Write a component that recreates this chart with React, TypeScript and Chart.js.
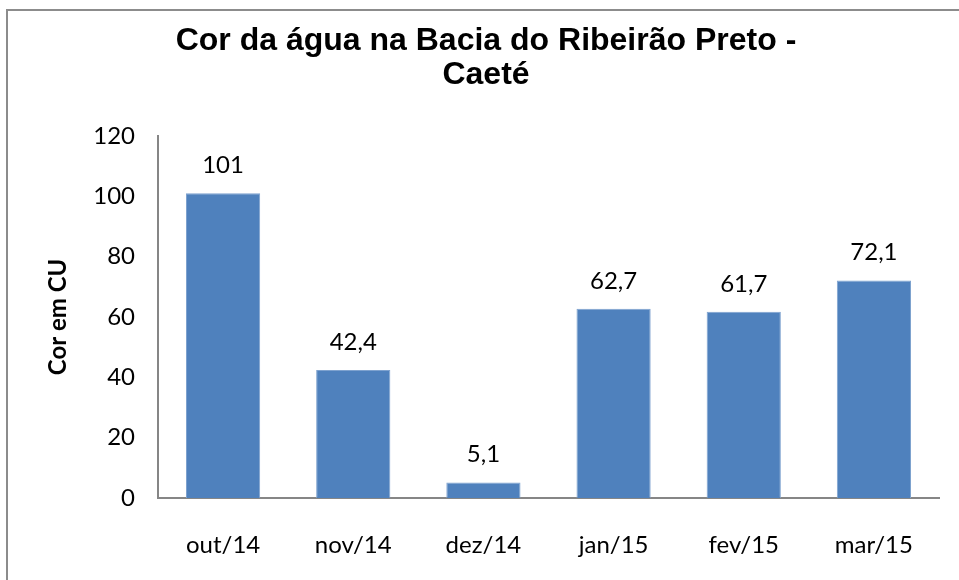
import React, { useEffect, useRef } from "react";
import { Chart, registerables } from "chart.js";

Chart.register(...registerables);

const categories = ["out/14", "nov/14", "dez/14", "jan/15", "fev/15", "mar/15"];
const values = [101, 42.4, 5.1, 62.7, 61.7, 72.1];
const yTicks = [0, 20, 40, 60, 80, 100, 120];
const titleLines = ["Cor da água na Bacia do Ribeirão Preto -", "Caeté"];
const yTitle = "Cor em CU";

const LABEL_FONT = "Lato, 'Open Sans', sans-serif";

const dataLabels = {
  id: "dataLabels",
  afterDatasetsDraw(chart: any) {
    const ctx = chart.ctx;
    const meta = chart.getDatasetMeta(0);
    ctx.save();
    ctx.font = `24px ${LABEL_FONT}`;
    ctx.fillStyle = "#000";
    ctx.textAlign = "center";
    ctx.textBaseline = "middle";
    meta.data.forEach((bar: any, i: number) => {
      const txt = String(values[i]).replace(".", ",");
      ctx.fillText(txt, bar.x, bar.y - 28);
    });
    ctx.restore();
  },
};

export default function App() {
  const ref = useRef<HTMLCanvasElement | null>(null);
  useEffect(() => {
    if (!ref.current) return;
    const chart = new Chart(ref.current, {
      type: "bar",
      data: {
        labels: categories,
        datasets: [
          {
            data: values,
            backgroundColor: "#4F81BD",
            borderColor: "#7EA2CF",
            borderWidth: 1,
            barPercentage: 0.57,
            categoryPercentage: 1,
          },
        ],
      },
      options: {
        animation: false,
        responsive: false,
        maintainAspectRatio: false,
        layout: { padding: { left: 33, right: 41, top: 0, bottom: 0 } },
        plugins: {
          legend: { display: false },
          tooltip: { enabled: false },
          title: {
            display: true,
            text: titleLines,
            color: "#000",
            font: { family: "'Liberation Sans', Arial, sans-serif", size: 32, weight: "bold", lineHeight: 1.06 },
            padding: { top: 24, bottom: 44 },
          },
        },
        scales: {
          x: {
            grid: { display: false, drawTicks: false },
            border: { display: true, color: "#868686", width: 2 },
            ticks: { color: "#000", font: { family: LABEL_FONT, size: 24 }, padding: 33 },
            afterFit: (s: any) => {
              s.height = 82;
            },
          },
          y: {
            min: 0,
            max: 120,
            afterBuildTicks: (s: any) => {
              s.ticks = yTicks.map((v) => ({ value: v }));
            },
            grid: { display: false, drawTicks: false },
            border: { display: true, color: "#868686", width: 2 },
            ticks: { color: "#000", font: { family: LABEL_FONT, size: 24 }, padding: 23 },
            title: {
              display: true,
              text: yTitle,
              color: "#000",
              font: { family: LABEL_FONT, size: 24, weight: "bold" },
              padding: { top: 11, bottom: 0 },
            },
            afterFit: (s: any) => {
              s.width = 125;
            },
          },
        },
      },
      plugins: [dataLabels],
    });
    return () => chart.destroy();
  }, []);

  return (
    <div style={{ position: "absolute", left: 0, top: 0, width: 959, height: 580, overflow: "hidden", background: "#fff" }}>
      <canvas ref={ref} width={980} height={580} style={{ position: "absolute", left: 0, top: 0, width: 980, height: 580 }} />
      <div
        style={{
          position: "absolute",
          left: 6,
          top: 9,
          width: 1000,
          height: 1000,
          borderLeft: "2px solid #8c8c8c",
          borderTop: "2px solid #8c8c8c",
          pointerEvents: "none",
        }}
      />
    </div>
  );
}
